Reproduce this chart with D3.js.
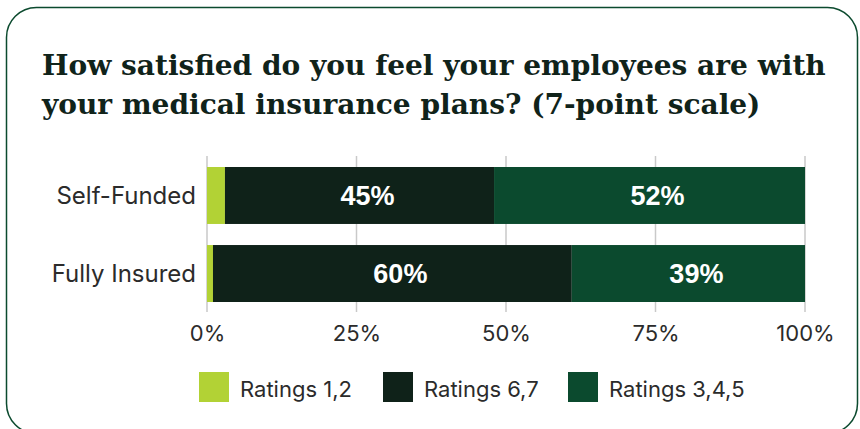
<!DOCTYPE html>
<html>
<head>
<meta charset="utf-8">
<script src="https://cdn.jsdelivr.net/npm/d3@7"></script>
<style>
  html, body { margin: 0; padding: 0; background: #fff; }
  svg { display: block; }
</style>
</head>
<body>
<div id="chart"></div>
<script>
// data
var categories = ["Self-Funded", "Fully Insured"]
var seriesNames = ["Ratings 1,2", "Ratings 6,7", "Ratings 3,4,5"]
var low = [3, 1]        // Ratings 1,2
var high = [45, 60]     // Ratings 6,7
var mid = [52, 39]      // Ratings 3,4,5
var tickValues = [0, 25, 50, 75, 100]
var titleLines = ["How satisfied do you feel your employees are with",
                  "your medical insurance plans? (7-point scale)"]

var width = 860
var height = 429
var colors = ["#b2d235", "#0f2219", "#0b4a2e"]

var rows = categories.map(function (c, i) {
    return { category: c, "Ratings 1,2": low[i], "Ratings 6,7": high[i], "Ratings 3,4,5": mid[i] }
})

var svg = d3.select("#chart").append("svg")
    .attr("width", width)
    .attr("height", height)

// card border
svg.append("rect")
    .attr("x", 6.5).attr("y", 7.5)
    .attr("width", 851).attr("height", 426)
    .attr("rx", 30)
    .attr("fill", "#fff")
    .attr("stroke", "#0b4a2e")
    .attr("stroke-width", 1.5)

// title - size the font so the first line spans the same width as the original
var title = svg.append("g").selectAll("text")
    .data(titleLines)
    .enter().append("text")
    .attr("x", 42)
    .attr("y", function (d, i) { return 75 + i * 39 })
    .attr("font-family", "'DejaVu Serif', serif")
    .attr("font-weight", "bold")
    .attr("font-size", 30)
    .attr("fill", "#10231a")
    .text(function (d) { return d })

var w0 = title.node().getComputedTextLength()
title.attr("font-size", 30 * 784 / w0)

var x = d3.scaleLinear().domain([0, 100]).range([207, 805])
var y = d3.scaleBand().domain(categories).range([167, 302]).paddingInner(0.27).paddingOuter(0)

// gridlines
svg.append("g").selectAll("line")
    .data(tickValues)
    .enter().append("line")
    .attr("x1", function (d) { return x(d) })
    .attr("x2", function (d) { return x(d) })
    .attr("y1", 156).attr("y2", 312)
    .attr("stroke", "#c9c9c9")
    .attr("stroke-width", 1.5)

// x axis labels
var xAxis = d3.axisBottom(x).tickValues(tickValues).tickSize(0).tickFormat(function (d) { return d + "%" })
var gx = svg.append("g").attr("transform", "translate(0,322)").call(xAxis)
gx.select(".domain").remove()
gx.selectAll("text")
    .attr("font-family", "Inter, sans-serif")
    .attr("font-size", 22)
    .attr("fill", "#2b2b2b")
    .attr("dy", "0.71em")

// stacked bars
var stack = d3.stack().keys(seriesNames)
var series = stack(rows)

var groups = svg.append("g").selectAll("g")
    .data(series)
    .enter().append("g")
    .attr("fill", function (d, i) { return colors[i] })

groups.selectAll("rect")
    .data(function (d) { return d })
    .enter().append("rect")
    .attr("x", function (d) { return x(d[0]) })
    .attr("y", function (d) { return y(d.data.category) })
    .attr("width", function (d) { return x(d[1]) - x(d[0]) })
    .attr("height", y.bandwidth())

// value labels (skip the tiny segment)
groups.filter(function (d, i) { return i > 0 })
    .selectAll("text")
    .data(function (d) { return d })
    .enter().append("text")
    .attr("x", function (d) { return (x(d[0]) + x(d[1])) / 2 + 8 })
    .attr("y", function (d) { return y(d.data.category) + y.bandwidth() / 2 })
    .attr("dy", "0.36em")
    .attr("text-anchor", "middle")
    .attr("font-family", "'Liberation Sans', Arial, sans-serif")
    .attr("font-weight", "bold")
    .attr("font-size", 27)
    .attr("fill", "#fff")
    .text(function (d) { return Math.round(d[1] - d[0]) + "%" })

// category labels
svg.append("g").selectAll("text")
    .data(categories)
    .enter().append("text")
    .attr("x", 196)
    .attr("y", function (d) { return y(d) + y.bandwidth() / 2 })
    .attr("dy", "0.36em")
    .attr("text-anchor", "end")
    .attr("font-family", "Inter, sans-serif")
    .attr("font-size", 24)
    .attr("fill", "#2b2b2b")
    .text(function (d) { return d })

// legend
var legendX = [199, 383, 568]
var legend = svg.append("g").selectAll("g")
    .data(seriesNames)
    .enter().append("g")
    .attr("transform", function (d, i) { return "translate(" + legendX[i] + ",372)" })

legend.append("rect")
    .attr("width", 30).attr("height", 30)
    .attr("fill", function (d, i) { return colors[i] })

legend.append("text")
    .attr("x", 41)
    .attr("y", 25)
    .attr("font-family", "Inter, sans-serif")
    .attr("font-size", 22)
    .attr("fill", "#2b2b2b")
    .text(function (d) { return d })
</script>
</body>
</html>
